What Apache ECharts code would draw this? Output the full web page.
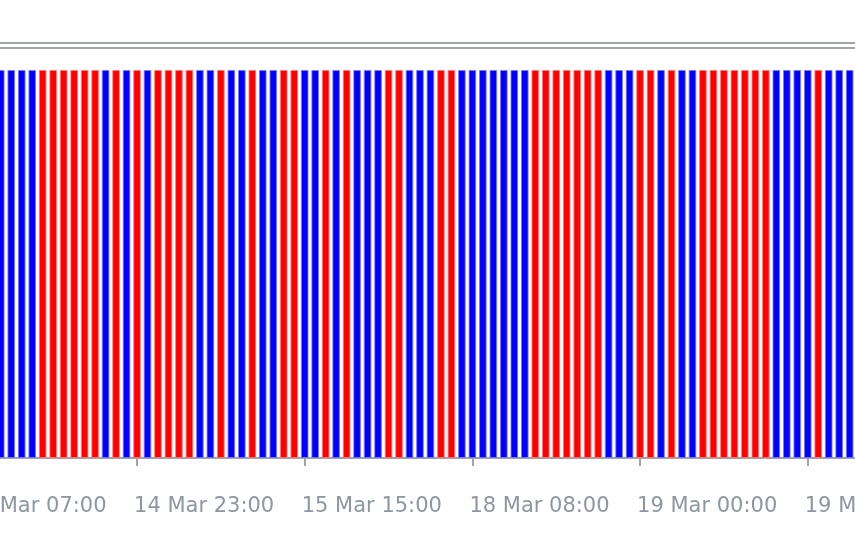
<!DOCTYPE html>
<html>
<head>
<meta charset="utf-8">
<script src="https://cdn.jsdelivr.net/npm/echarts@6/dist/echarts.min.js"></script>
<style>
html,body{margin:0;padding:0;background:#fff;}
#chart{width:855px;height:534px;}
</style>
</head>
<body>
<div id="chart"></div>
<script>
// Hourly bar times (weekend gap between 15 Mar and 18 Mar)
const categories = [
  '14 Mar 07:00','14 Mar 08:00','14 Mar 09:00','14 Mar 10:00','14 Mar 11:00','14 Mar 12:00','14 Mar 13:00','14 Mar 14:00',
  '14 Mar 15:00','14 Mar 16:00','14 Mar 17:00','14 Mar 18:00','14 Mar 19:00','14 Mar 20:00','14 Mar 21:00','14 Mar 22:00',
  '14 Mar 23:00','15 Mar 00:00','15 Mar 01:00','15 Mar 02:00','15 Mar 03:00','15 Mar 04:00','15 Mar 05:00','15 Mar 06:00',
  '15 Mar 07:00','15 Mar 08:00','15 Mar 09:00','15 Mar 10:00','15 Mar 11:00','15 Mar 12:00','15 Mar 13:00','15 Mar 14:00',
  '15 Mar 15:00','15 Mar 16:00','15 Mar 17:00','15 Mar 18:00','15 Mar 19:00','15 Mar 20:00','15 Mar 21:00','15 Mar 22:00',
  '15 Mar 23:00','18 Mar 01:00','18 Mar 02:00','18 Mar 03:00','18 Mar 04:00','18 Mar 05:00','18 Mar 06:00','18 Mar 07:00',
  '18 Mar 08:00','18 Mar 09:00','18 Mar 10:00','18 Mar 11:00','18 Mar 12:00','18 Mar 13:00','18 Mar 14:00','18 Mar 15:00',
  '18 Mar 16:00','18 Mar 17:00','18 Mar 18:00','18 Mar 19:00','18 Mar 20:00','18 Mar 21:00','18 Mar 22:00','18 Mar 23:00',
  '19 Mar 00:00','19 Mar 01:00','19 Mar 02:00','19 Mar 03:00','19 Mar 04:00','19 Mar 05:00','19 Mar 06:00','19 Mar 07:00',
  '19 Mar 08:00','19 Mar 09:00','19 Mar 10:00','19 Mar 11:00','19 Mar 12:00','19 Mar 13:00','19 Mar 14:00','19 Mar 15:00',
  '19 Mar 16:00','19 Mar 17:00','19 Mar 18:00','19 Mar 19:00','19 Mar 20:00'
];

// Trend state per bar: 1 = up (blue), -1 = down (red), null = no bar visible
const trend = [
  null,null,null,
  1,1,1,1,-1,-1,-1,-1,-1,-1,
  1,-1,1,-1,1,-1,-1,-1,-1,1,
  1,-1,1,1,-1,1,1,-1,-1,1,
  1,-1,1,-1,1,1,1,-1,-1,1,
  1,1,-1,-1,1,1,1,1,1,1,
  1,-1,-1,-1,-1,-1,-1,-1,1,1,
  1,-1,-1,1,-1,1,1,-1,-1,-1,
  -1,-1,-1,-1,1,1,1,1,-1,1,
  1,1
];

// Histogram level (all bars full height)
const level = 1;

const upData = trend.map(t => t === 1 ? level : null);
const downData = trend.map(t => t === -1 ? level : null);

const chart = echarts.init(document.getElementById('chart'), null, {renderer: 'canvas'});
const gray = '#a0a3a8';
chart.setOption({
  backgroundColor: '#ffffff',
  animation: false,
  grid: {left: -35.9, right: 0.1, top: 70, bottom: 76, outerBoundsMode: 'none', containLabel: false},
  xAxis: {
    type: 'category',
    data: categories,
    boundaryGap: true,
    offset: 23,
    axisLine: {show: true, lineStyle: {color: gray, width: 2}},
    axisTick: {show: true, interval: 15, alignWithLabel: true, length: 8, lineStyle: {color: gray, width: 2}},
    axisLabel: {
      interval: 15, align: 'left', margin: 15, padding: [0, 0, 0, -3],
      color: '#8d96a3', fontFamily: 'DejaVu Sans', fontSize: 21
    },
    splitLine: {show: false}
  },
  yAxis: {type: 'value', min: 0, max: 1, show: false},
  series: [
    {
      name: 'Up', type: 'bar', data: upData, barWidth: 7.6, barGap: '-100%',
      itemStyle: {color: '#0000ff', borderColor: 'rgba(120,120,255,0.85)', borderWidth: 1}
    },
    {
      name: 'Down', type: 'bar', data: downData, barWidth: 7.6, barGap: '-100%',
      itemStyle: {color: '#ff0000', borderColor: 'rgba(255,120,120,0.85)', borderWidth: 1}
    }
  ],
  graphic: [
    {type: 'line', shape: {x1: 0, y1: 43, x2: 855, y2: 43}, style: {stroke: gray, lineWidth: 2}, silent: true},
    {type: 'line', shape: {x1: 0, y1: 48, x2: 855, y2: 48}, style: {stroke: gray, lineWidth: 2}, silent: true}
  ]
});
</script>
</body>
</html>
